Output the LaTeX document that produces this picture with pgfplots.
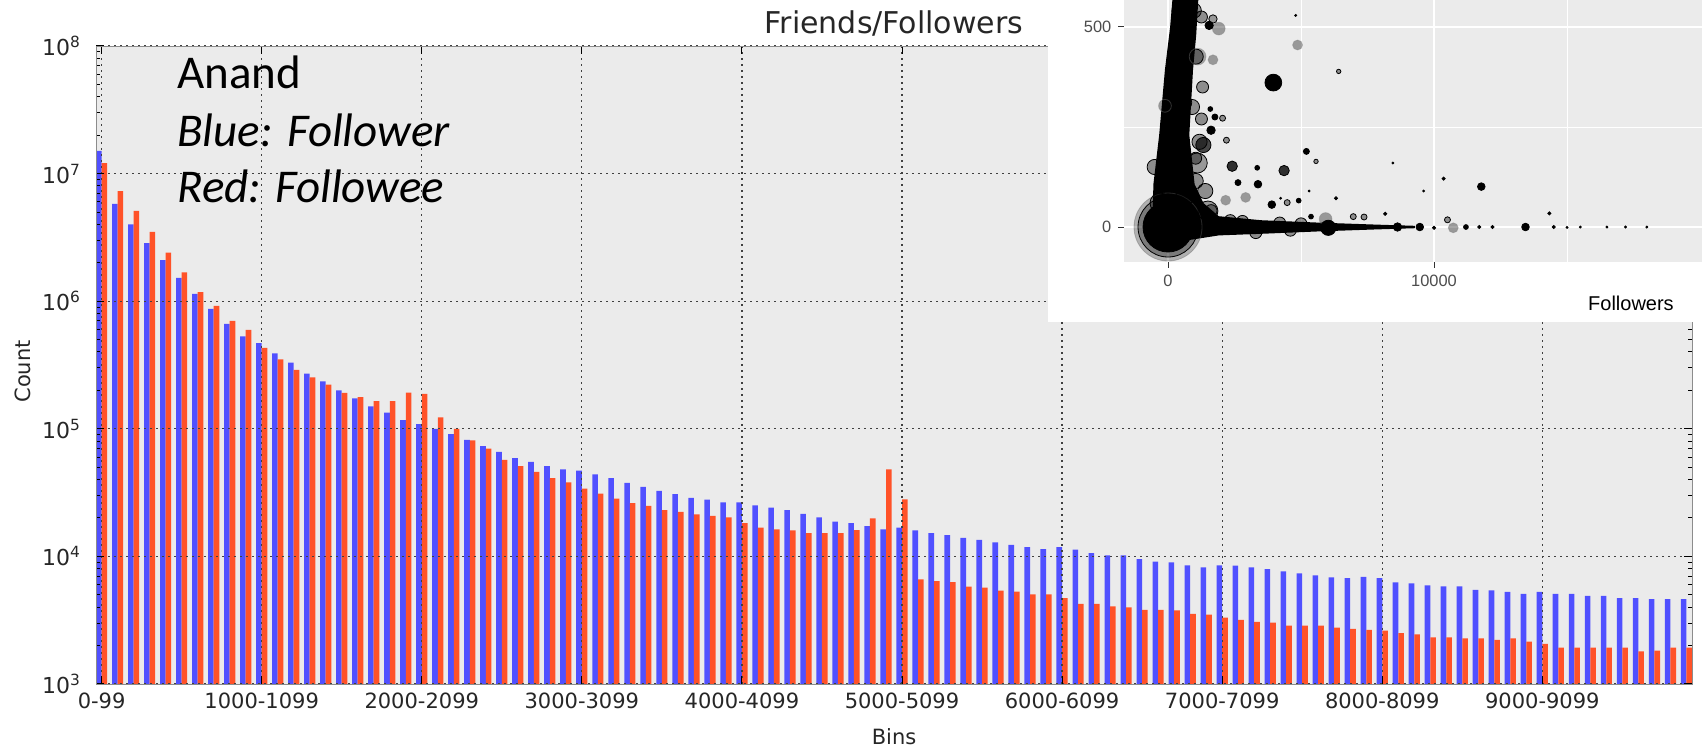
\documentclass[border=0pt]{standalone}
\usepackage{pgfplots}
\pgfplotsset{compat=1.18}
\usepackage{pgfplotstable}
\usepackage{fontspec}
\setmainfont{DejaVu Sans}
\newfontfamily\carlito{Carlito}
\newfontfamily\helv{Liberation Sans}
\definecolor{bgray}{RGB}{235,235,235}
\definecolor{fblue}{RGB}{80,80,255}
\definecolor{fred}{RGB}{255,82,40}
\definecolor{gtext}{RGB}{77,77,77}
\definecolor{gtick}{RGB}{51,51,51}

\pgfplotstableread{
bin blue red
0 1.51e7 1.21e7
1 5.8e6 7.3e6
2 4.0e6 5.1e6
3 2.85e6 3.5e6
4 2.1e6 2.4e6
5 1.52e6 1.68e6
6 1.14e6 1.18e6
7 8.7e5 9.2e5
8 6.65e5 7.0e5
9 5.3e5 5.95e5
10 4.7e5 4.3e5
11 3.9e5 3.5e5
12 3.3e5 2.9e5
13 2.71e5 2.53e5
14 2.35e5 2.22e5
15 2.0e5 1.91e5
16 1.73e5 1.77e5
17 1.5e5 1.65e5
18 1.34e5 1.65e5
19 1.17e5 1.92e5
20 1.09e5 1.88e5
21 1.0e5 1.23e5
22 9.1e4 1.0e5
23 8.2e4 8.1e4
24 7.3e4 7.0e4
25 6.6e4 5.7e4
26 5.9e4 5.1e4
27 5.5e4 4.6e4
28 5.1e4 4.1e4
29 4.8e4 3.8e4
30 4.7e4 3.4e4
31 4.4e4 3.1e4
32 4.1e4 2.84e4
33 3.77e4 2.62e4
34 3.5e4 2.49e4
35 3.26e4 2.3e4
36 3.07e4 2.23e4
37 2.87e4 2.13e4
38 2.78e4 2.08e4
39 2.65e4 2.02e4
40 2.65e4 1.82e4
41 2.51e4 1.68e4
42 2.41e4 1.63e4
43 2.31e4 1.6e4
44 2.15e4 1.52e4
45 2.02e4 1.52e4
46 1.87e4 1.52e4
47 1.82e4 1.61e4
48 1.73e4 1.99e4
49 1.63e4 4.8e4
50 1.68e4 2.8e4
51 1.6e4 6.6e3
52 1.52e4 6.4e3
53 1.47e4 6.3e3
54 1.4e4 5.8e3
55 1.35e4 5.7e3
56 1.29e4 5.4e3
57 1.23e4 5.3e3
58 1.18e4 5.05e3
59 1.14e4 5.05e3
60 1.18e4 4.7e3
61 1.13e4 4.25e3
62 1.06e4 4.25e3
63 1.02e4 4.05e3
64 1.02e4 3.98e3
65 9.5e3 3.81e3
66 9.1e3 3.81e3
67 8.97e3 3.77e3
68 8.5e3 3.55e3
69 8.2e3 3.5e3
70 8.5e3 3.32e3
71 8.45e3 3.18e3
72 8.2e3 3.07e3
73 7.96e3 3.03e3
74 7.63e3 2.87e3
75 7.35e3 2.87e3
76 7.1e3 2.87e3
77 6.84e3 2.77e3
78 6.76e3 2.7e3
79 6.9e3 2.65e3
80 6.76e3 2.62e3
81 6.25e3 2.5e3
82 6.14e3 2.45e3
83 5.92e3 2.32e3
84 5.81e3 2.32e3
85 5.81e3 2.28e3
86 5.47e3 2.28e3
87 5.41e3 2.22e3
88 5.28e3 2.28e3
89 5.09e3 2.15e3
90 5.28e3 2.06e3
91 5.09e3 1.93e3
92 5.09e3 1.93e3
93 4.91e3 1.93e3
94 4.91e3 1.93e3
95 4.71e3 1.93e3
96 4.71e3 1.8e3
97 4.62e3 1.83e3
98 4.62e3 1.93e3
99 4.62e3 1.93e3
}\bins

\begin{document}
\begin{tikzpicture}
\useasboundingbox (0,0) rectangle (851pt,375pt);
\begin{axis}[
  at={(48pt,33pt)}, anchor=south west,
  scale only axis, width=798pt, height=319pt,
  ymode=log, ymin=1e3, ymax=1e8,
  xmin=-0.35, xmax=99.35,
  axis background/.style={fill=bgray},
  axis line style={black!45},
  axis on top,
  xtick={0,10,20,30,40,50,60,70,80,90},
  xticklabels={0-99,1000-1099,2000-2099,3000-3099,4000-4099,5000-5099,6000-6099,7000-7099,8000-8099,9000-9099},
  ytick={1e3,1e4,1e5,1e6,1e7,1e8},
  yticklabels={10\textsuperscript{3},10\textsuperscript{4},10\textsuperscript{5},10\textsuperscript{6},10\textsuperscript{7},10\textsuperscript{8}},
  minor ytick={2e3,3e3,4e3,5e3,6e3,7e3,8e3,9e3,2e4,3e4,4e4,5e4,6e4,7e4,8e4,9e4,2e5,3e5,4e5,5e5,6e5,7e5,8e5,9e5,2e6,3e6,4e6,5e6,6e6,7e6,8e6,9e6,2e7,3e7,4e7,5e7,6e7,7e7,8e7,9e7},
  grid=major,
  major grid style={black!75, dash pattern=on 0.8pt off 2.2pt, line width=0.6pt},
  tick style={black, line width=0.5pt},
  major tick length=4pt, minor tick length=2pt,
  tick label style={font=\fontsize{10.5}{12}\selectfont, text=black!85},
  xticklabel style={yshift=-1pt},
  yticklabel style={xshift=-4pt, font=\fontsize{11}{12}\selectfont},
  xlabel={Bins}, ylabel={Count},
  xlabel style={at={(axis description cs:0.5,0)}, anchor=base, yshift=-30.5pt, font=\fontsize{10.5}{12}\selectfont, text=black!85},
  ylabel style={at={(axis description cs:-0.0457,0.49)}, anchor=center, font=\fontsize{10.5}{12}\selectfont, text=black!85},
  title={Friends/Followers},
  title style={at={(axis description cs:0.5,1)}, anchor=base, yshift=0pt, font=\fontsize{15}{17}\selectfont, text=black!85},
]
\addplot[ybar, bar width=0.35, bar shift=-0.175, fill=fblue, draw=none] table[x=bin, y=blue] {\bins};
\addplot[ybar, bar width=0.35, bar shift=0.175, fill=fred, draw=none] table[x=bin, y=red] {\bins};
\end{axis}

\node[anchor=base west, inner sep=0pt, font=\carlito\fontsize{23.5}{27}\selectfont] at (88.5pt,330.5pt) {Anand};
\node[anchor=base west, inner sep=0pt, font=\carlito\itshape\fontsize{23.5}{27}\selectfont] at (88.5pt,301.5pt) {Blue: Follower};
\node[anchor=base west, inner sep=0pt, font=\carlito\itshape\fontsize{23.5}{27}\selectfont] at (88.5pt,273.5pt) {Red: Followee};

\fill[white] (524pt,214pt) rectangle (851pt,375pt);
\begin{axis}[
  at={(562.2pt,244.15pt)}, anchor=south west,
  scale only axis, width=288.8pt, height=130.85pt,
  xmin=-1639, xmax=20075, ymin=-86.7, ymax=567.5,
  scaled x ticks=false, scaled y ticks=false,
  axis background/.style={fill=bgray},
  axis line style={draw=none},
  xtick={0,10000}, ytick={0,500},
  xticklabels={0,10000}, yticklabels={0,500},
  minor xtick={5000,15000}, minor ytick={250},
  grid=both,
  major grid style={white, line width=1pt},
  minor grid style={white, line width=0.5pt},
  tick align=outside, xtick pos=left, ytick pos=left,
  major tick length=3pt, minor tick length=0pt,
  tick style={gtick, line width=0.5pt},
  tick label style={font=\helv\fontsize{8.2}{9}\selectfont, text=gtext},
  xlabel={Followers},
  xlabel style={at={(axis description cs:0.877,0)}, anchor=center, yshift=-20.6pt, font=\helv\fontsize{10}{12}\selectfont, text=black},
]
% dense spike and horizontal band
\addplot[fill=black, draw=none] coordinates {
(-549,107) (-332,230) (-116,393) (80,500) (180,580) (1150,580) (1060,480) (940,393) (800,230) (1000,107) (1329,60) (1907,27) (3497,17) (5664,11) (7832,6) (9277,3) (9277,-3) (7832,-6) (5664,-11) (3497,-17) (1907,-21) (751,-33) (-600,-30)
};
% origin blob halo
\addplot[only marks, mark=*, mark size=17pt, mark options={fill=black, fill opacity=0.25, draw=black!60, draw opacity=0.4}] coordinates {(0,0)};
\addplot[only marks, mark=*, mark size=15pt, mark options={fill=black, fill opacity=0.3, draw=none}] coordinates {(0,0)};
\addplot[only marks, mark=*, mark size=12.5pt, mark options={fill=black, draw=none}] coordinates {(0,0)};
% translucent blobs along the spike
\addplot[only marks, mark=*, mark size=3.8pt, mark options={fill=black, fill opacity=0.4, draw=none}] coordinates {
(1040,426) (968,541) (1185,213) (434,541) (1400,90) (607,311) (1040,115) (900,300) (-500,150)};
\addplot[only marks, mark=*, mark size=5pt, mark options={fill=black, fill opacity=0.35, draw=none}] coordinates {
(679,82) (1100,160) (-300,60) (1500,40)};
\addplot[only marks, mark=*, mark size=3pt, mark options={fill=black, fill opacity=0.4, draw=none}] coordinates {
(1257,525) (1257,270) (1040,172) (1618,41) (2341,16) (2800,14) (3300,-14) (4200,10) (4600,-8) (5000,8) (1300,350)};
% translucent scattered circles
\addplot[only marks, mark=*, mark size=3.2pt, mark options={fill=black, fill opacity=0.35, draw=black!50, draw opacity=0.4}] coordinates {
(1908,496) (-115,303) (5925,20)};
\addplot[only marks, mark=*, mark size=2.5pt, mark options={fill=black, fill opacity=0.35, draw=black!50, draw opacity=0.4}] coordinates {
(4870,455) (1690,418) (2168,67) (2919,74) (10723,-2)};
\addplot[only marks, mark=*, mark size=4.2pt, mark options={fill=black, fill opacity=0.3, draw=black!50, draw opacity=0.4}] coordinates {
(1113,426)};
\addplot[only marks, mark=*, mark size=2.1pt, mark options={fill=black, fill opacity=0.35, draw=none}] coordinates {
(1690,520)};
\addplot[only marks, mark=*, mark size=1.5pt, mark options={fill=black, fill opacity=0.4, draw=none}] coordinates {
(2052,272) (6965,26) (7370,25) (2197,217) (4480,61) (10506,18)};
\addplot[only marks, mark=*, mark size=1.1pt, mark options={fill=black, fill opacity=0.4, draw=none}] coordinates {
(5564,164) (6416,389)};
% solid black circles
\addplot[only marks, mark=*, mark size=4.2pt, mark options={fill=black, draw=none}] coordinates {(3960,361)};
\addplot[only marks, mark=*, mark size=3.8pt, mark options={fill=black, draw=none}] coordinates {(6026,-2)};
\addplot[only marks, mark=*, mark size=3.8pt, mark options={fill=black, fill opacity=0.7, draw=none}] coordinates {(1329,205)};
\addplot[only marks, mark=*, mark size=2.6pt, mark options={fill=black, fill opacity=0.8, draw=none}] coordinates {(2413,152) (4364,141)};
\addplot[only marks, mark=*, mark size=2.1pt, mark options={fill=black, draw=none}] coordinates {
(1546,504) (1618,242) (8627,0)};
\addplot[only marks, mark=*, mark size=1.9pt, mark options={fill=black, draw=none}] coordinates {
(3382,107) (3902,56) (11777,101) (9465,0) (13439,0)};
\addplot[only marks, mark=*, mark size=1.5pt, mark options={fill=black, draw=none}] coordinates {
(1763,275) (5202,189) (2630,111)};
\addplot[only marks, mark=*, mark size=1.2pt, mark options={fill=black, draw=none}] coordinates {
(1590,295) (5376,26) (3353,148) (11200,0) (4913,66)};
\addplot[only marks, mark=*, mark size=0.8pt, mark options={fill=black, draw=none}] coordinates {
(10361,121) (14335,34) (6315,72) (8165,33) (12200,0) (11700,0) (10000,-2) (14500,0)};
\addplot[only marks, mark=*, mark size=0.5pt, mark options={fill=black, draw=none}] coordinates {
(4800,529) (9610,90) (8454,160) (5303,90) (4234,72) (15500,0) (16500,0) (17200,0) (18000,0) (15000,-1)};
\end{axis}
\end{tikzpicture}
\end{document}
